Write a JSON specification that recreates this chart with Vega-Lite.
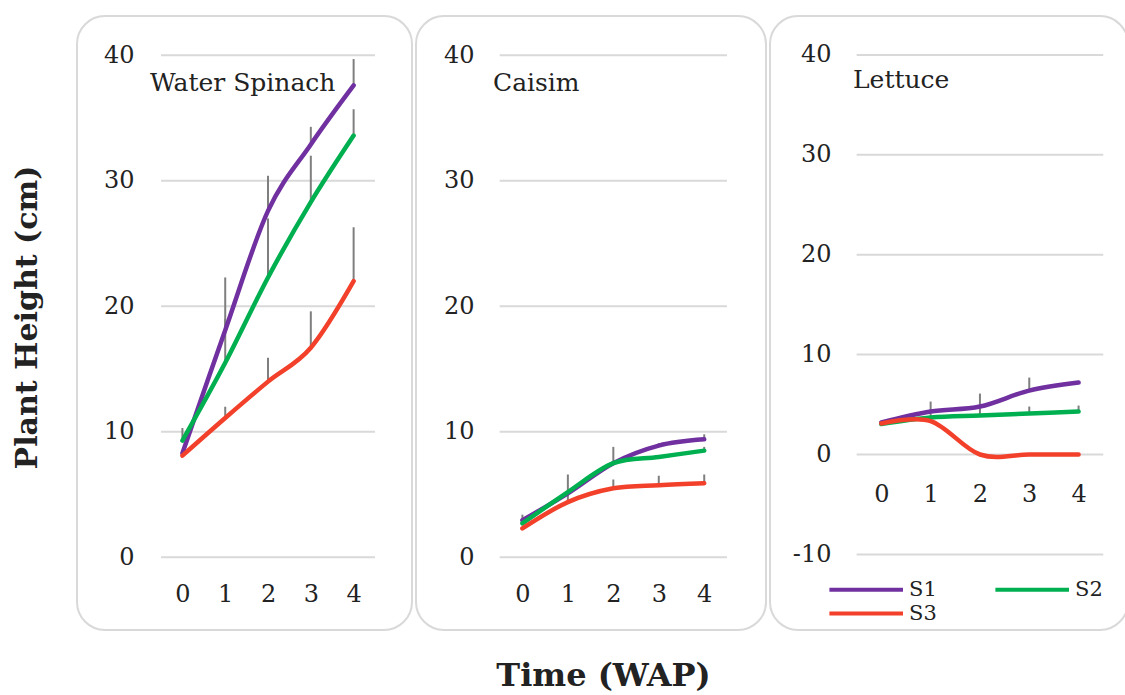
{
  "$schema": "https://vega.github.io/schema/vega-lite/v6.json",
  "padding": {"left": 11, "top": 15, "right": 0, "bottom": 0},
  "background": "white",
  "spacing": 2,
  "config": {
    "view": {"stroke": "#d9d9d9", "strokeWidth": 2, "cornerRadius": 28},
    "font": "DejaVu Serif",
    "axis": {"domain": false, "ticks": false, "tickSize": 0, "grid": false, "labelFont": "DejaVu Serif", "labelFontSize": 24, "labelColor": "#222222", "labelPadding": 0, "titleFont": "DejaVu Serif", "titleColor": "#222222"},
    "title": {"font": "DejaVu Serif", "color": "#222222"}
  },
  "resolve": {"scale": {"x": "independent", "y": "independent", "color": "independent"}, "legend": {"color": "independent"}},
  "datasets": {
    "growth": [
      {"crop": "Water Spinach", "s": "S1", "t": 0, "h": 8.3, "hi": null},
      {"crop": "Water Spinach", "s": "S1", "t": 1, "h": 18.1, "hi": 22.3},
      {"crop": "Water Spinach", "s": "S1", "t": 2, "h": 27.6, "hi": 30.4},
      {"crop": "Water Spinach", "s": "S1", "t": 3, "h": 32.9, "hi": 34.3},
      {"crop": "Water Spinach", "s": "S1", "t": 4, "h": 37.6, "hi": 39.7},
      {"crop": "Water Spinach", "s": "S2", "t": 0, "h": 9.3, "hi": 10.3},
      {"crop": "Water Spinach", "s": "S2", "t": 1, "h": 15.5, "hi": 19.0},
      {"crop": "Water Spinach", "s": "S2", "t": 2, "h": 22.3, "hi": 27.0},
      {"crop": "Water Spinach", "s": "S2", "t": 3, "h": 28.3, "hi": 32.0},
      {"crop": "Water Spinach", "s": "S2", "t": 4, "h": 33.6, "hi": 35.7},
      {"crop": "Water Spinach", "s": "S3", "t": 0, "h": 8.1, "hi": null},
      {"crop": "Water Spinach", "s": "S3", "t": 1, "h": 11.1, "hi": 12.0},
      {"crop": "Water Spinach", "s": "S3", "t": 2, "h": 14.0, "hi": 15.9},
      {"crop": "Water Spinach", "s": "S3", "t": 3, "h": 16.7, "hi": 19.6},
      {"crop": "Water Spinach", "s": "S3", "t": 4, "h": 22.0, "hi": 26.3},
      {"crop": "Caisim", "s": "S1", "t": 0, "h": 2.95, "hi": 3.4},
      {"crop": "Caisim", "s": "S1", "t": 1, "h": 5.1, "hi": null},
      {"crop": "Caisim", "s": "S1", "t": 2, "h": 7.5, "hi": 8.8},
      {"crop": "Caisim", "s": "S1", "t": 3, "h": 8.9, "hi": 9.1},
      {"crop": "Caisim", "s": "S1", "t": 4, "h": 9.4, "hi": 9.8},
      {"crop": "Caisim", "s": "S2", "t": 0, "h": 2.7, "hi": null},
      {"crop": "Caisim", "s": "S2", "t": 1, "h": 5.2, "hi": null},
      {"crop": "Caisim", "s": "S2", "t": 2, "h": 7.5, "hi": null},
      {"crop": "Caisim", "s": "S2", "t": 3, "h": 8.0, "hi": null},
      {"crop": "Caisim", "s": "S2", "t": 4, "h": 8.5, "hi": 8.8},
      {"crop": "Caisim", "s": "S3", "t": 0, "h": 2.3, "hi": null},
      {"crop": "Caisim", "s": "S3", "t": 1, "h": 4.4, "hi": 6.6},
      {"crop": "Caisim", "s": "S3", "t": 2, "h": 5.5, "hi": 6.2},
      {"crop": "Caisim", "s": "S3", "t": 3, "h": 5.75, "hi": 6.5},
      {"crop": "Caisim", "s": "S3", "t": 4, "h": 5.9, "hi": 6.6},
      {"crop": "Lettuce", "s": "S1", "t": 0, "h": 3.2, "hi": null},
      {"crop": "Lettuce", "s": "S1", "t": 1, "h": 4.3, "hi": null},
      {"crop": "Lettuce", "s": "S1", "t": 2, "h": 4.8, "hi": null},
      {"crop": "Lettuce", "s": "S1", "t": 3, "h": 6.4, "hi": 7.7},
      {"crop": "Lettuce", "s": "S1", "t": 4, "h": 7.2, "hi": null},
      {"crop": "Lettuce", "s": "S2", "t": 0, "h": 3.05, "hi": null},
      {"crop": "Lettuce", "s": "S2", "t": 1, "h": 3.7, "hi": 5.3},
      {"crop": "Lettuce", "s": "S2", "t": 2, "h": 3.9, "hi": 6.1},
      {"crop": "Lettuce", "s": "S2", "t": 3, "h": 4.1, "hi": 4.8},
      {"crop": "Lettuce", "s": "S2", "t": 4, "h": 4.3, "hi": 4.9},
      {"crop": "Lettuce", "s": "S3", "t": 0, "h": 3.1, "hi": null},
      {"crop": "Lettuce", "s": "S3", "t": 1, "h": 3.35, "hi": null},
      {"crop": "Lettuce", "s": "S3", "t": 2, "h": 0, "hi": null},
      {"crop": "Lettuce", "s": "S3", "t": 3, "h": 0, "hi": null},
      {"crop": "Lettuce", "s": "S3", "t": 4, "h": 0, "hi": null}
    ],
    "grid40": [{"h": 0, "a": -0.5, "b": 4.5}, {"h": 10, "a": -0.5, "b": 4.5}, {"h": 20, "a": -0.5, "b": 4.5}, {"h": 30, "a": -0.5, "b": 4.5}, {"h": 40, "a": -0.5, "b": 4.5}],
    "grid50": [{"h": -10, "a": -0.5, "b": 4.5}, {"h": 0, "a": -0.5, "b": 4.5}, {"h": 10, "a": -0.5, "b": 4.5}, {"h": 20, "a": -0.5, "b": 4.5}, {"h": 30, "a": -0.5, "b": 4.5}, {"h": 40, "a": -0.5, "b": 4.5}]
  },
  "hconcat": [
    {
      "width": 335,
      "height": 614,
      "title": {"text": "Water Spinach", "anchor": "start", "frame": "group", "orient": "top", "offset": 0, "baseline": "alphabetic", "dx": 73, "dy": 100, "fontSize": 25, "fontWeight": "normal"},
      "encoding": {
        "y": {"field": "h", "type": "quantitative", "scale": {"domain": [-5.79, 43.13], "nice": false, "zero": false}, "axis": {"title": "Plant Height (cm)", "values": [0, 10, 20, 30, 40], "offset": -57, "labelAlign": "right", "labelBaseline": "middle", "titleFontSize": 30, "titleFontWeight": "bold", "titleX": -92, "titleY": 301}}
      },
      "layer": [
        {
          "data": {"name": "grid40"},
          "mark": {"type": "rule", "color": "#d9d9d9", "strokeWidth": 2},
          "encoding": {
            "x": {"field": "a", "type": "quantitative", "scale": {"domain": [-2.463, 5.364], "nice": false, "zero": false}, "axis": {"title": null, "values": [0, 1, 2, 3, 4], "format": "d", "offset": -36, "labelBaseline": "middle", "labelAngle": 0}},
            "x2": {"field": "b"}
          }
        },
        {
          "data": {"name": "growth"},
          "transform": [{"filter": "datum.crop === 'Water Spinach' && isValid(datum.hi)"}],
          "mark": {"type": "rule", "color": "#7f7f7f", "strokeWidth": 2},
          "encoding": {"x": {"field": "t", "type": "quantitative", "title": null}, "y2": {"field": "hi"}}
        },
        {
          "data": {"name": "growth"},
          "transform": [{"filter": "datum.crop === 'Water Spinach'"}],
          "mark": {"type": "line", "interpolate": "cardinal", "strokeWidth": 4.5, "strokeCap": "round"},
          "encoding": {"x": {"field": "t", "type": "quantitative", "title": null}, "color": {"field": "s", "type": "nominal", "scale": {"domain": ["S1", "S2", "S3"], "range": ["#7030a0", "#00b050", "#f2402a"]}, "legend": null}}
        }
      ]
    },
    {
      "width": 350,
      "height": 614,
      "title": {"text": "Caisim", "anchor": "start", "frame": "group", "orient": "top", "offset": 0, "baseline": "alphabetic", "dx": 77, "dy": 100, "fontSize": 25, "fontWeight": "normal"},
      "encoding": {
        "y": {"field": "h", "type": "quantitative", "scale": {"domain": [-5.79, 43.13], "nice": false, "zero": false}, "axis": {"title": null, "values": [0, 10, 20, 30, 40], "offset": -58, "labelAlign": "right", "labelBaseline": "middle"}}
      },
      "layer": [
        {
          "data": {"name": "grid40"},
          "mark": {"type": "rule", "color": "#d9d9d9", "strokeWidth": 2},
          "encoding": {
            "x": {"field": "a", "type": "quantitative", "scale": {"domain": [-2.341, 5.359], "nice": false, "zero": false}, "axis": {"title": "Time (WAP)", "titleX": 187, "titleY": 91, "titleBaseline": "alphabetic", "titleAlign": "center", "titleFontSize": 32, "titleFontWeight": "bold", "values": [0, 1, 2, 3, 4], "format": "d", "offset": -36, "labelBaseline": "middle", "labelAngle": 0}},
            "x2": {"field": "b"}
          }
        },
        {
          "data": {"name": "growth"},
          "transform": [{"filter": "datum.crop === 'Caisim' && isValid(datum.hi)"}],
          "mark": {"type": "rule", "color": "#7f7f7f", "strokeWidth": 2},
          "encoding": {"x": {"field": "t", "type": "quantitative", "title": "Time (WAP)"}, "y2": {"field": "hi"}}
        },
        {
          "data": {"name": "growth"},
          "transform": [{"filter": "datum.crop === 'Caisim'"}],
          "mark": {"type": "line", "interpolate": "cardinal", "strokeWidth": 4.5, "strokeCap": "round"},
          "encoding": {"x": {"field": "t", "type": "quantitative", "title": "Time (WAP)"}, "color": {"field": "s", "type": "nominal", "scale": {"domain": ["S1", "S2", "S3"], "range": ["#7030a0", "#00b050", "#f2402a"]}, "legend": null}}
        }
      ]
    },
    {
      "width": 358,
      "height": 614,
      "title": {"text": "Lettuce", "anchor": "start", "frame": "group", "orient": "top", "offset": 0, "baseline": "alphabetic", "dx": 83, "dy": 97, "fontSize": 25, "fontWeight": "normal"},
      "encoding": {
        "y": {"field": "h", "type": "quantitative", "scale": {"domain": [-17.57, 43.9], "nice": false, "zero": false}, "axis": {"title": null, "values": [-10, 0, 10, 20, 30, 40], "labelExpr": "'' + datum.value", "offset": -61, "labelAlign": "right", "labelBaseline": "middle"}}
      },
      "layer": [
        {
          "data": {"name": "grid50"},
          "mark": {"type": "rule", "color": "#d9d9d9", "strokeWidth": 2},
          "encoding": {
            "x": {"field": "a", "type": "quantitative", "scale": {"domain": [-2.257, 5.002], "nice": false, "zero": false}, "axis": {"title": null, "values": [0, 1, 2, 3, 4], "format": "d", "offset": -136, "labelBaseline": "middle", "labelAngle": 0}},
            "x2": {"field": "b"}
          }
        },
        {
          "data": {"name": "growth"},
          "transform": [{"filter": "datum.crop === 'Lettuce' && isValid(datum.hi)"}],
          "mark": {"type": "rule", "color": "#7f7f7f", "strokeWidth": 2},
          "encoding": {"x": {"field": "t", "type": "quantitative", "title": null}, "y2": {"field": "hi"}}
        },
        {
          "data": {"name": "growth"},
          "transform": [{"filter": "datum.crop === 'Lettuce'"}],
          "mark": {"type": "line", "interpolate": "cardinal", "strokeWidth": 4.5, "strokeCap": "round"},
          "encoding": {"x": {"field": "t", "type": "quantitative", "title": null}, "color": {"field": "s", "type": "nominal", "scale": {"domain": ["S1", "S2", "S3"], "range": ["#7030a0", "#00b050", "#f2402a"]}, "legend": {"orient": "none", "legendX": 108, "legendY": 560, "direction": "horizontal", "columns": 2, "title": null, "padding": 0, "symbolType": "M-5.4,0H1", "symbolSize": 529, "symbolStrokeWidth": 4, "labelFont": "DejaVu Serif", "labelFontSize": 21, "labelColor": "#222222", "labelOffset": 4, "columnPadding": 50, "rowPadding": 0}}}
        }
      ]
    }
  ]
}
